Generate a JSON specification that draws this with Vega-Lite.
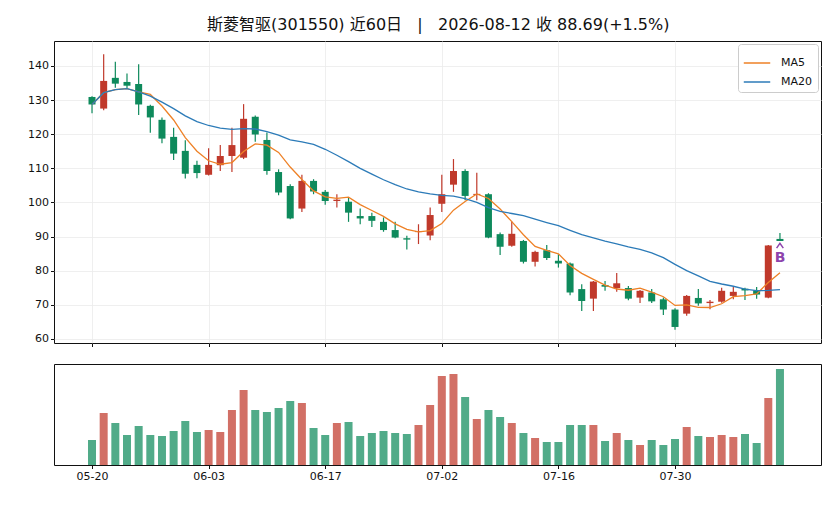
{
  "$schema": "https://vega.github.io/schema/vega-lite/v6.json",
  "background": "white",
  "padding": {"left": 27, "top": 16, "right": 14, "bottom": 10},
  "title": {
    "text": "斯菱智驱(301550) 近60日\u00a0\u00a0\u00a0|\u00a0\u00a0\u00a02026-08-12 收 88.69(+1.5%)",
    "anchor": "middle",
    "dx": 14,
    "fontSize": 16,
    "fontWeight": "normal",
    "font": "DejaVu Sans, Noto Sans CJK SC",
    "color": "#111111",
    "offset": 8
  },
  "config": {
    "font": "DejaVu Sans, Noto Sans CJK SC",
    "view": {"stroke": "#111111", "strokeWidth": 1},
    "axis": {
      "domain": false,
      "title": null,
      "labelFontSize": 11,
      "labelColor": "#111111",
      "tickColor": "#111111",
      "tickSize": 3.5,
      "labelOverlap": false,
      "gridColor": "#ebebeb",
      "gridWidth": 0.8
    }
  },
  "datasets": {
    "k": [
      {"i": 0, "d": "05-20", "o": 130.9, "h": 131.1, "l": 126.1, "c": 128.7, "v": 25, "MA5": 128.70, "MA20": 128.70},
      {"i": 1, "d": "05-21", "o": 127.5, "h": 143.4, "l": 127.0, "c": 135.6, "v": 52, "MA5": 132.15, "MA20": 132.15},
      {"i": 2, "d": "05-22", "o": 136.5, "h": 141.2, "l": 133.6, "c": 134.8, "v": 42, "MA5": 133.03, "MA20": 133.03},
      {"i": 3, "d": "05-25", "o": 135.3, "h": 137.8, "l": 133.5, "c": 134.2, "v": 30, "MA5": 133.33, "MA20": 133.33},
      {"i": 4, "d": "05-26", "o": 134.7, "h": 140.5, "l": 125.6, "c": 128.7, "v": 39, "MA5": 132.40, "MA20": 132.40},
      {"i": 5, "d": "05-27", "o": 128.3, "h": 128.6, "l": 120.4, "c": 124.9, "v": 30, "MA5": 131.64, "MA20": 131.15},
      {"i": 6, "d": "05-28", "o": 124.2, "h": 124.9, "l": 117.3, "c": 118.7, "v": 29, "MA5": 128.26, "MA20": 129.37},
      {"i": 7, "d": "05-29", "o": 119.2, "h": 121.9, "l": 112.4, "c": 114.3, "v": 34, "MA5": 124.16, "MA20": 127.49},
      {"i": 8, "d": "06-01", "o": 115.1, "h": 118.2, "l": 107.0, "c": 108.4, "v": 44, "MA5": 119.00, "MA20": 125.37},
      {"i": 9, "d": "06-02", "o": 111.0, "h": 112.2, "l": 107.1, "c": 108.6, "v": 33, "MA5": 114.98, "MA20": 123.69},
      {"i": 10, "d": "06-03", "o": 108.1, "h": 115.9, "l": 107.9, "c": 111.0, "v": 35, "MA5": 112.20, "MA20": 122.54},
      {"i": 11, "d": "06-04", "o": 110.9, "h": 116.8, "l": 109.2, "c": 113.6, "v": 33, "MA5": 111.18, "MA20": 121.79},
      {"i": 12, "d": "06-05", "o": 113.6, "h": 121.9, "l": 108.9, "c": 116.8, "v": 55, "MA5": 111.68, "MA20": 121.41},
      {"i": 13, "d": "06-08", "o": 113.1, "h": 128.8, "l": 112.7, "c": 124.5, "v": 75, "MA5": 114.90, "MA20": 121.63},
      {"i": 14, "d": "06-09", "o": 125.1, "h": 125.5, "l": 117.8, "c": 119.9, "v": 55, "MA5": 117.16, "MA20": 121.51},
      {"i": 15, "d": "06-10", "o": 118.3, "h": 120.5, "l": 108.1, "c": 109.2, "v": 53, "MA5": 116.80, "MA20": 120.74},
      {"i": 16, "d": "06-11", "o": 108.9, "h": 109.7, "l": 102.1, "c": 102.9, "v": 57, "MA5": 114.66, "MA20": 119.69},
      {"i": 17, "d": "06-12", "o": 104.8, "h": 105.3, "l": 95.1, "c": 95.3, "v": 64, "MA5": 110.36, "MA20": 118.34},
      {"i": 18, "d": "06-15", "o": 98.2, "h": 108.1, "l": 97.2, "c": 106.3, "v": 62, "MA5": 106.72, "MA20": 117.71},
      {"i": 19, "d": "06-16", "o": 106.3, "h": 106.8, "l": 102.4, "c": 103.2, "v": 37, "MA5": 103.38, "MA20": 116.98},
      {"i": 20, "d": "06-17", "o": 103.1, "h": 103.6, "l": 99.3, "c": 100.4, "v": 30, "MA5": 101.62, "MA20": 115.57},
      {"i": 21, "d": "06-18", "o": 100.4, "h": 102.4, "l": 98.5, "c": 100.8, "v": 42, "MA5": 101.20, "MA20": 113.83},
      {"i": 22, "d": "06-22", "o": 100.2, "h": 101.4, "l": 94.3, "c": 97.0, "v": 43, "MA5": 101.54, "MA20": 111.94},
      {"i": 23, "d": "06-23", "o": 96.0, "h": 98.2, "l": 93.6, "c": 95.3, "v": 29, "MA5": 99.34, "MA20": 109.99},
      {"i": 24, "d": "06-24", "o": 96.0, "h": 97.0, "l": 92.8, "c": 94.6, "v": 32, "MA5": 97.62, "MA20": 108.29},
      {"i": 25, "d": "06-25", "o": 94.3, "h": 95.6, "l": 91.4, "c": 91.9, "v": 34, "MA5": 95.92, "MA20": 106.64},
      {"i": 26, "d": "06-26", "o": 91.9, "h": 94.3, "l": 89.5, "c": 89.7, "v": 32, "MA5": 93.70, "MA20": 105.19},
      {"i": 27, "d": "06-29", "o": 89.5, "h": 90.2, "l": 86.2, "c": 89.1, "v": 31, "MA5": 92.12, "MA20": 103.93},
      {"i": 28, "d": "06-30", "o": 91.3, "h": 93.6, "l": 87.8, "c": 91.6, "v": 40, "MA5": 91.38, "MA20": 103.09},
      {"i": 29, "d": "07-01", "o": 90.3, "h": 98.5, "l": 88.9, "c": 96.3, "v": 60, "MA5": 91.72, "MA20": 102.47},
      {"i": 30, "d": "07-02", "o": 99.6, "h": 108.1, "l": 97.2, "c": 102.4, "v": 89, "MA5": 93.82, "MA20": 102.04},
      {"i": 31, "d": "07-03", "o": 105.2, "h": 112.7, "l": 103.1, "c": 109.2, "v": 91, "MA5": 97.72, "MA20": 101.82},
      {"i": 32, "d": "07-06", "o": 109.2, "h": 109.7, "l": 100.6, "c": 101.9, "v": 68, "MA5": 100.28, "MA20": 101.08},
      {"i": 33, "d": "07-07", "o": 102.2, "h": 108.7, "l": 100.6, "c": 102.5, "v": 46, "MA5": 102.46, "MA20": 99.98},
      {"i": 34, "d": "07-08", "o": 102.4, "h": 102.7, "l": 89.5, "c": 89.7, "v": 55, "MA5": 101.14, "MA20": 98.47},
      {"i": 35, "d": "07-09", "o": 90.7, "h": 91.2, "l": 84.6, "c": 87.0, "v": 48, "MA5": 98.06, "MA20": 97.36},
      {"i": 36, "d": "07-10", "o": 87.3, "h": 94.4, "l": 87.0, "c": 90.8, "v": 42, "MA5": 94.38, "MA20": 96.75},
      {"i": 37, "d": "07-13", "o": 88.7, "h": 89.0, "l": 82.1, "c": 82.6, "v": 32, "MA5": 90.52, "MA20": 96.12},
      {"i": 38, "d": "07-14", "o": 82.6, "h": 85.8, "l": 81.2, "c": 85.5, "v": 27, "MA5": 87.12, "MA20": 95.08},
      {"i": 39, "d": "07-15", "o": 86.0, "h": 87.5, "l": 83.1, "c": 83.7, "v": 23, "MA5": 85.92, "MA20": 94.10},
      {"i": 40, "d": "07-16", "o": 82.9, "h": 84.8, "l": 80.9, "c": 82.1, "v": 23, "MA5": 84.94, "MA20": 93.19},
      {"i": 41, "d": "07-17", "o": 82.1, "h": 82.4, "l": 72.8, "c": 73.6, "v": 40, "MA5": 81.50, "MA20": 91.83},
      {"i": 42, "d": "07-20", "o": 74.6, "h": 76.0, "l": 68.2, "c": 71.1, "v": 40, "MA5": 79.20, "MA20": 90.53},
      {"i": 43, "d": "07-21", "o": 71.8, "h": 77.0, "l": 68.2, "c": 76.8, "v": 40, "MA5": 77.46, "MA20": 89.61},
      {"i": 44, "d": "07-22", "o": 75.8, "h": 77.0, "l": 74.1, "c": 75.3, "v": 24, "MA5": 75.78, "MA20": 88.64},
      {"i": 45, "d": "07-23", "o": 74.9, "h": 79.3, "l": 73.8, "c": 76.3, "v": 32, "MA5": 74.62, "MA20": 87.86},
      {"i": 46, "d": "07-24", "o": 74.9, "h": 75.5, "l": 71.3, "c": 71.8, "v": 25, "MA5": 74.26, "MA20": 86.97},
      {"i": 47, "d": "07-27", "o": 72.1, "h": 74.3, "l": 70.5, "c": 74.1, "v": 20, "MA5": 74.86, "MA20": 86.22},
      {"i": 48, "d": "07-28", "o": 73.6, "h": 74.6, "l": 70.5, "c": 71.0, "v": 25, "MA5": 73.70, "MA20": 85.19},
      {"i": 49, "d": "07-29", "o": 71.6, "h": 72.1, "l": 67.0, "c": 68.6, "v": 20, "MA5": 72.36, "MA20": 83.80},
      {"i": 50, "d": "07-30", "o": 68.6, "h": 69.0, "l": 62.7, "c": 63.5, "v": 26, "MA5": 69.80, "MA20": 81.86},
      {"i": 51, "d": "07-31", "o": 67.4, "h": 72.9, "l": 66.8, "c": 72.6, "v": 38, "MA5": 69.96, "MA20": 80.03},
      {"i": 52, "d": "08-03", "o": 72.0, "h": 74.6, "l": 69.7, "c": 70.4, "v": 29, "MA5": 69.22, "MA20": 78.45},
      {"i": 53, "d": "08-04", "o": 70.5, "h": 71.4, "l": 68.7, "c": 70.9, "v": 28, "MA5": 69.20, "MA20": 76.87},
      {"i": 54, "d": "08-05", "o": 70.9, "h": 75.0, "l": 70.6, "c": 74.1, "v": 30, "MA5": 70.30, "MA20": 76.09},
      {"i": 55, "d": "08-06", "o": 72.6, "h": 75.2, "l": 71.6, "c": 73.8, "v": 28, "MA5": 72.36, "MA20": 75.43},
      {"i": 56, "d": "08-07", "o": 74.7, "h": 75.0, "l": 71.4, "c": 74.2, "v": 31, "MA5": 72.68, "MA20": 74.60},
      {"i": 57, "d": "08-10", "o": 74.2, "h": 75.2, "l": 71.8, "c": 73.0, "v": 22, "MA5": 73.20, "MA20": 74.12},
      {"i": 58, "d": "08-11", "o": 72.1, "h": 87.5, "l": 71.9, "c": 87.38, "v": 67, "MA5": 76.50, "MA20": 74.21},
      {"i": 59, "d": "08-12", "o": 89.3, "h": 91.0, "l": 88.7, "c": 88.69, "v": 96, "MA5": 79.41, "MA20": 74.46}
    ],
    "sig": [
      {"i": 59, "d": "08-12", "p": 87.3, "label": "B"}
    ]
  },
  "bounds": "flush",
  "spacing": 21,
  "vconcat": [
    {
      "width": 767,
      "height": 302,
      "data": {"name": "k"},
      "encoding": {
        "x": {
          "field": "i",
          "type": "quantitative",
          "scale": {"domain": [-3.26, 62.52], "nice": false, "zero": false, "padding": 0},
          "axis": {"values": [0, 10, 20, 30, 40, 50], "labels": false, "grid": true}
        }
      },
      "layer": [
        {
          "mark": {"type": "rule", "strokeWidth": 1.2},
          "encoding": {
            "y": {
              "field": "l",
              "type": "quantitative",
              "scale": {"domain": [58.8, 147.3], "nice": false, "zero": false},
              "axis": {"values": [60, 70, 80, 90, 100, 110, 120, 130, 140], "grid": true}
            },
            "y2": {"field": "h"},
            "color": {"condition": {"test": "datum.c >= datum.o", "value": "#c0392b"}, "value": "#0e8a5c"}
          }
        },
        {
          "mark": {"type": "bar", "width": 7},
          "encoding": {
            "y": {
              "field": "o",
              "type": "quantitative",
              "axis": {"values": [60, 70, 80, 90, 100, 110, 120, 130, 140], "grid": true}
            },
            "y2": {"field": "c"},
            "color": {"condition": {"test": "datum.c >= datum.o", "value": "#c0392b"}, "value": "#0e8a5c"}
          }
        },
        {
          "transform": [{"fold": ["MA5", "MA20"], "as": ["ma", "val"]}],
          "mark": {"type": "line", "strokeWidth": 1.3},
          "encoding": {
            "y": {
              "field": "val",
              "type": "quantitative",
              "axis": {"values": [60, 70, 80, 90, 100, 110, 120, 130, 140], "grid": true}
            },
            "color": {
              "field": "ma",
              "type": "nominal",
              "scale": {"domain": ["MA5", "MA20"], "range": ["#ee8126", "#2c7bb8"]},
              "legend": {
                "title": null,
                "orient": "top-right",
                "offset": 3,
                "symbolType": "stroke",
                "symbolSize": 700,
                "symbolStrokeWidth": 1.5,
                "labelFontSize": 11,
                "labelOffset": 10,
                "labelColor": "#111111",
                "rowPadding": 0,
                "padding": 5,
                "fillColor": "white",
                "strokeColor": "#cccccc",
                "cornerRadius": 3
              }
            }
          }
        },
        {
          "data": {"name": "sig"},
          "mark": {"type": "point", "shape": "M-1,0.7L0,-0.7L1,0.7", "filled": false, "stroke": "#8e44ad", "strokeWidth": 1.5, "size": 45, "opacity": 1},
          "encoding": {
            "y": {
              "field": "p",
              "type": "quantitative",
              "axis": {"values": [60, 70, 80, 90, 100, 110, 120, 130, 140], "grid": true}
            }
          }
        },
        {
          "data": {"name": "sig"},
          "mark": {"type": "text", "color": "#8e44ad", "fontSize": 14, "fontWeight": "bold", "dy": 12},
          "encoding": {
            "y": {
              "field": "p",
              "type": "quantitative",
              "axis": {"values": [60, 70, 80, 90, 100, 110, 120, 130, 140], "grid": true}
            },
            "text": {"field": "label"}
          }
        }
      ]
    },
    {
      "width": 767,
      "height": 101,
      "data": {"name": "k"},
      "mark": {"type": "bar", "width": 8, "opacity": 0.72},
      "encoding": {
        "x": {
          "field": "i",
          "type": "quantitative",
          "scale": {"domain": [-3.26, 62.52], "nice": false, "zero": false, "padding": 0},
          "axis": {
            "values": [0, 10, 20, 30, 40, 50],
            "labelExpr": "['05-20', '06-03', '06-17', '07-02', '07-16', '07-30'][datum.value / 10]",
            "grid": false
          }
        },
        "y": {
          "field": "v",
          "type": "quantitative",
          "scale": {"domain": [0, 101], "nice": false},
          "axis": null
        },
        "color": {"condition": {"test": "datum.c >= datum.o", "value": "#c0392b"}, "value": "#0e8a5c"}
      }
    }
  ]
}
